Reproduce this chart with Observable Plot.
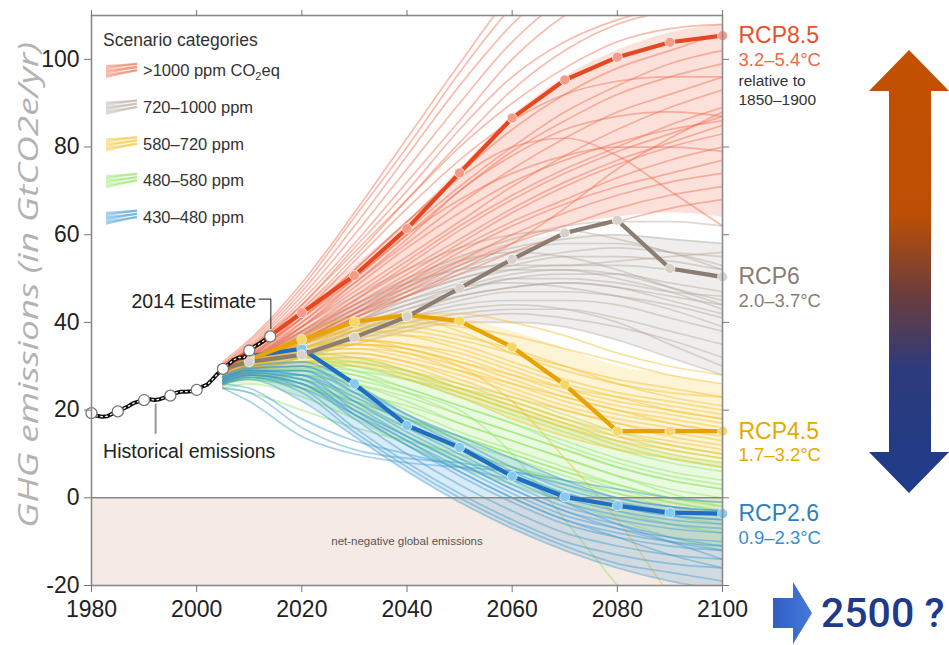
<!DOCTYPE html>
<html>
<head>
<meta charset="utf-8">
<script src="https://cdn.jsdelivr.net/npm/d3@7"></script>
<script src="https://cdn.jsdelivr.net/npm/@observablehq/plot@0.6"></script>
<style>
  html, body { margin: 0; padding: 0; background: #fff; overflow: hidden; }
  #chart svg { display: block; }
</style>
</head>
<body>
<div id="chart"></div>
<script>
// ---------- DATA ----------
const histYears = [1980,1981,1982,1983,1984,1985,1986,1987,1988,1989,1990,1991,1992,1993,1994,1995,1996,1997,1998,1999,2000,2001,2002,2003,2004,2005,2006,2007,2008,2009,2010,2011,2012,2013,2014];
const histValues = [19.3,18.7,18.5,18.6,19.2,19.7,20.3,20.9,21.6,22.0,22.3,22.5,22.3,22.5,22.9,23.3,23.9,24.2,24.2,24.3,24.6,25.3,25.8,27.0,28.3,29.4,30.4,31.4,32.0,32.0,33.6,34.5,35.2,36.0,36.8];
const histMarkerYears = [1980,1985,1990,1995,2000,2005,2010,2014];

const scenYears = [2005,2010,2020,2030,2040,2050,2060,2070,2080,2090,2100];

const scenRed = [
  [31,36,49,65,82,99,115,125,130,132,134],
  [30.5,35,47,62,78,94,108,118,124,128,130],
  [30,34,45,58,72,86,100,110,116,120,122],
  [29.5,33.5,43,55,68,81,93,102,108,111,112],
  [29,33,42,52,63,74,84,92,98,102,106],
  [29,32.5,41,50,60,70,79,86,92,96,99],
  [28.5,32,40,49,58,67,75,82,88,92,96],
  [28,31.5,39,47,55,63,71,78,84,89,93],
  [28,31,38,46,54,62,69,75,80,85,89],
  [27.5,31,38,45,52,59,66,72,77,81,85],
  [27,30.5,37,44,51,58,65,71,76,80,83],
  [27,30,36.5,43,50,57,63,68,73,77,80],
  [26.5,30,36,42,49,56,62,67,71,74,77],
  [26.5,29.5,36,42,48,54,60,65,69,72,74],
  [26,29,35,41,47,53,58,62,66,69,71],
  [26,29,35,41,46,51,56,60,63,66,68],
  [25.5,29,35,40,46,52,58,66,75,82,88],
  [28,32,41,52,63,73,80,82,78,70,62],
  [27,31,40,50,60,68,74,78,80,80,79],
  [29,33,44,56,68,80,90,98,104,107,108],
  [30,34.5,46,60,75,90,104,114,120,124,126],
  [28.5,32,42,54,66,77,86,92,95,96,96],
  [27.5,31,39,48,57,65,72,77,81,84,86],
  [30.5,35.5,48,64,80,97,112,122,128,130,131],
  [29.5,34,44,57,70,84,96,104,109,112,113],
  [28,31,39,49,59,70,78,84,87,88,87],
  [27,30,37,45,53,61,68,74,79,83,87],
  [28.5,32.5,41,51,61,71,80,88,94,99,102]
];
const scenGrey = [
  [29,32,38,44,50,55,59,62,63,63,62],
  [28.5,31.5,37,43,48,53,57,59,60,59,58],
  [28.5,31,36,42,47,51,54,56,57,56,55],
  [28,31,36,41,46,50,53,55,55,54,52],
  [28,30.5,35,40,45,49,52,53,53,52,50],
  [28,30.5,35,40,44,47,50,51,51,49,47],
  [27.5,30,34,39,43,46,48,49,48,46,44],
  [27.5,30,34,38,42,45,47,47,46,44,41],
  [27,29.5,33,37,41,44,45,45,44,41,38],
  [27,29.5,33,37,40,42,43,43,41,38,35],
  [27,29,32,36,39,41,42,41,39,36,32],
  [26.5,29,32,35,38,40,40,39,36,32,28],
  [28,31,37,43,49,54,56,55,52,48,44],
  [28,31,36,42,47,52,56,58,58,56,53],
  [27.5,30,35,40,44,48,51,52,51,48,45],
  [27,30,34,38,41,43,44,43,40,35,30],
  [28.5,32,39,46,52,57,60,61,59,56,52],
  [27,29.5,33,38,42,46,48,49,48,45,42],
  [28,31,37,42,46,50,52,52,50,47,43],
  [27.5,30.5,35,39,43,47,50,50,49,47,46],
  [28,30.5,35.5,41,45,48,49,48,46,43,39],
  [28.5,31.5,37.5,44,49,52,53,53,54,55,56]
];
const scenYellow = [
  [28,31,36,39,40,39,37,34,31,28,26],
  [28,30.5,35,38,38,36,33,30,27,25,23],
  [27.5,30,34,37,37,35,31,27,24,22,20],
  [27.5,30,34,36,35,33,29,25,22,20,18],
  [27,29.5,33,35,34,31,27,23,20,18,16],
  [27,29.5,33,34,33,30,26,22,19,17,15],
  [27,29,32,33,31,28,24,20,17,15,13],
  [26.5,29,31,32,30,26,22,18,15,13,11],
  [26.5,28.5,31,31,28,24,20,16,13,11,9],
  [26,28.5,30,30,27,23,18,14,11,9,7],
  [28,31,36,40,42,42,40,37,33,30,28],
  [28,30.5,35,38,39,37,34,30,26,23,21],
  [27.5,30,34,36,35,32,28,24,21,19,17],
  [27,29.5,33,35,33,29,25,21,18,16,14],
  [27,29.5,32,32,29,25,21,17,14,12,10],
  [27.5,30,34,36,34,30,22,9,-5,-22,-35],
  [28,31,37,41,41,38,33,29,26,24,23],
  [27.5,30,33.5,35,34,31,28,25,23,21,19],
  [27,29.5,32.5,33,31,27,23,20,17,14,12],
  [27.5,30,33,34,32,29,26,23,20,17,15],
  [28,30.5,35.5,38,37,34,30,26,23,20,18]
];
const scenGreen = [
  [28,30,33,32,29,25,21,17,13,10,8],
  [27.5,29.5,32,30,27,23,19,15,11,8,6],
  [27.5,29,31,29,25,21,17,13,9,6,4],
  [27,29,30,28,24,19,15,11,7,4,2],
  [27,28.5,29,26,22,17,13,9,5,2,0],
  [26.5,28,28,25,20,15,11,7,3,0,-2],
  [26.5,28,27,23,18,13,9,5,1,-2,-4],
  [26,27.5,26,21,16,11,7,3,-1,-4,-6],
  [26,27,25,20,14,9,5,1,-3,-6,-8],
  [27,28.5,30,29,27,24,20,16,12,9,7],
  [26.5,28,28,26,23,19,15,11,7,4,2],
  [26,27.5,26,22,18,14,10,6,2,-1,-3],
  [25,26,23,18,12,7,3,-1,-5,-9,-12],
  [27,28.5,29,27,24,20,10,-5,-20,-35,-40],
  [25,24,20,16,13,10,7,4,1,-1,-3],
  [27.5,29.5,32,31,29,26,23,19,15,12,10],
  [27,29,31,30,28,25,22,18,14,11,9],
  [26.5,28,27,24,21,17,13,9,5,1,-2],
  [27,28.5,29.5,28,25,21,17,12,8,5,3],
  [26,27,25,22,18,14,10,6,3,0,-1]
];
const scenBlue = [
  [28,30,31,26,19,13,7,2,-1,-3,-4],
  [27.5,29.5,30,24,17,11,5,0,-3,-5,-6],
  [27.5,29,29,22,15,9,3,-2,-5,-7,-8],
  [27,29,28,20,13,7,1,-4,-7,-9,-10],
  [27,28.5,27,19,12,5,-1,-6,-9,-11,-12],
  [26.5,28,26,18,10,3,-3,-8,-11,-13,-14],
  [26.5,28,25,16,8,1,-5,-10,-13,-15,-16],
  [26,27.5,24,15,7,0,-6,-11,-15,-17,-19],
  [27.5,29.5,30,25,19,14,9,4,0,-2,-3],
  [27,29,28,22,16,10,4,-1,-4,-6,-7],
  [26.5,28,26,20,14,8,2,-3,-7,-10,-12],
  [26,27.5,25,19,13,6,0,-5,-9,-13,-16],
  [26,27,22,14,6,-1,-7,-12,-16,-19,-21],
  [25,24,16,11,9,8,6,3,0,-2,-3],
  [25,22,14,10,8,7,6,4,2,0,-1],
  [26,25,18,13,10,7,4,1,-2,-4,-5],
  [27.5,29,29,24,18,12,6,1,-2,-4,-5],
  [27,28.5,27,21,14,8,2,-3,-6,-9,-11],
  [26.5,28,26,19,12,6,0,-5,-8,-10,-11],
  [27,28.5,28,23,17,11,5,-1,-6,-10,-14]
];
// approximate envelopes of the dense core of each scenario category (lower / upper)
const envRed = {lo: [26,29,35,41,47,53,58,62,64,65,64], hi: [30.5,34.5,44,53,63,75,87,96,102,106,108]};
const envGrey = {lo: [26.5,29,32,35,38,40,40,39,36,32,28], hi: [29,32,38,44,50,55,58,60,60,59,58]};
const envYellow = {lo: [26,28.5,30,30,27,23,18,14,11,9,7], hi: [28,31,36,40,42,41,38,34,30,28,26]};
const envGreen = {lo: [25,26,23,18,12,7,3,-1,-5,-9,-12], hi: [28,30,33,32,29,25,21,17,13,10,8]};
const envBlue = {lo: [26,27,22,14,6,-1,-7,-12,-16,-19,-21], hi: [28,30,31,26,19,14,9,4,0,-2,-3]};

const rcpYears = [2005,2010,2020,2030,2040,2050,2060,2070,2080,2090,2100];
const rcpNames = ["RCP8.5","RCP6","RCP4.5","RCP2.6"];
const rcpRanges = ["3.2–5.4°C","2.0–3.7°C","1.7–3.2°C","0.9–2.3°C"];
const rcp85 = [29.5,33.5,42.2,50.7,61.4,74.1,86.6,95.3,100.5,103.9,105.4];
const rcp60 = [29.5,31.0,32.6,36.6,41.3,47.8,54.4,60.4,63.3,52.3,50.4];
const rcp45 = [29.5,31.5,36.1,40.1,41.7,40.3,34.4,25.8,15.2,15.2,15.2];
const rcp26 = [29.5,32.3,34.0,26.0,16.5,11.5,4.9,0.2,-1.8,-3.4,-3.6];
const rcpMarkerYears = [2010,2020,2030,2040,2050,2060,2070,2080,2090,2100];

const legendTitle = "Scenario categories";
const legendLabels = [">1000 ppm CO", "720–1000 ppm", "580–720 ppm", "480–580 ppm", "430–480 ppm"];

const xTicks = [1980,2000,2020,2040,2060,2080,2100];
const yTicks = [-20,0,20,40,60,80,100];

// ---------- STYLE ----------
const catColors = ["#ef6a4c", "#b3a89f", "#f3c22c", "#8fe462", "#3d9bd3"];
const rcpColors = ["#e8461e", "#8c7d72", "#e8a300", "#1f6ec3"];
const rcpMarkFill = ["#f49c88", "#d8d1cb", "#f5d766", "#86c8ef"];
const rcpLabelColors = ["#e8502a", "#8a7d74", "#e8a800", "#2f7fc0"];
const rcpSubColors = ["#ec6a48", "#8a7d74", "#e8a800", "#3b8ccc"];

// ---------- TABLES ----------
function scenTable(lines, cat) {
  const out = [];
  lines.forEach((vals, i) => vals.forEach((v, j) => out.push({cat, id: cat + "_" + i, year: scenYears[j], v})));
  return out;
}
function envTable(env) {
  return scenYears.map((y, j) => ({year: y, lo: env.lo[j], hi: env.hi[j]}));
}
const scenSets = [scenGrey, scenRed, scenGreen, scenYellow, scenBlue];
const envSets = [envGrey, envRed, envGreen, envYellow, envBlue];
const scenCats = [1, 0, 3, 2, 4];
const hist = histYears.map((y, i) => ({year: y, v: histValues[i]}));
const histMarks = hist.filter(d => histMarkerYears.includes(d.year));
const rcpVals = [rcp85, rcp60, rcp45, rcp26];
const rcpRows = rcpVals.map((vals, k) => vals.map((v, j) => ({k, year: rcpYears[j], v})));
const rcpEnds = rcpVals.map((vals, k) => ({k, name: rcpNames[k], range: rcpRanges[k], year: rcpYears[rcpYears.length-1], v: vals[vals.length-1]}));

const marks = [];
// net-negative band
marks.push(Plot.rect([{x1: 1980, x2: 2100, y1: -20, y2: 0}], {x1: "x1", x2: "x2", y1: "y1", y2: "y2", fill: "#f6eae4"}));
marks.push(Plot.text(["net-negative global emissions"], {x: [2040], y: [-10], fontSize: 11.5, fill: "#555", fontFamily: "Liberation Sans"}));
// scenario envelopes + spaghetti
scenSets.forEach((lines, s) => {
  const c = scenCats[s];
  marks.push(Plot.areaY(envTable(envSets[s]), {x: "year", y1: "lo", y2: "hi", fill: catColors[c], fillOpacity: 0.2, curve: "monotone-x", clip: true}));
  marks.push(Plot.line(scenTable(lines, c), {x: "year", y: "v", z: "id", stroke: catColors[c], strokeWidth: 1.7, strokeOpacity: 0.45, curve: "monotone-x", clip: true}));
});
// zero line
marks.push(Plot.ruleY([0], {stroke: "#888", strokeWidth: 1.6}));
// RCP lines
rcpRows.slice().reverse().forEach(rows => {
  const k = rows[0].k;
  marks.push(Plot.line(rows, {x: "year", y: "v", stroke: rcpColors[k], strokeWidth: 4.2}));
});
rcpRows.slice().reverse().forEach(rows => {
  const k = rows[0].k;
  marks.push(Plot.dot(rows.filter(d => rcpMarkerYears.includes(d.year)), {x: "year", y: "v", r: 5, fill: rcpMarkFill[k], stroke: "#fff", strokeOpacity: 0.6, strokeWidth: 1}));
});
// historical
marks.push(Plot.line(hist, {x: "year", y: "v", stroke: "#111", strokeWidth: 4}));
marks.push(Plot.line(hist, {x: "year", y: "v", stroke: "#fff", strokeWidth: 1.3, strokeDasharray: "1.5,3.5"}));
marks.push(Plot.dot(histMarks, {x: "year", y: "v", r: 5.5, fill: "#fff", stroke: "#777", strokeWidth: 1.3}));
// annotations
const annoEstLine = [{year: 2011.9, v: 45.3}, {year: 2014.1, v: 45.3}, {year: 2014.1, v: 38.6}];
const annoHistLine = [{year: 1992.2, v: 21.3}, {year: 1992.2, v: 14.8}];
marks.push(Plot.line(annoEstLine, {x: "year", y: "v", stroke: "#444", strokeWidth: 1.2}));
marks.push(Plot.line(annoHistLine, {x: "year", y: "v", stroke: "#999", strokeWidth: 2}));
marks.push(Plot.text(["2014 Estimate"], {x: [2011.3], y: [44.8], textAnchor: "end", fontSize: 19.5, fill: "#222", fontFamily: "Liberation Sans"}));
marks.push(Plot.text(["Historical emissions"], {x: [1982.2], y: [10.5], textAnchor: "start", fontSize: 19.5, fill: "#222", fontFamily: "Liberation Sans"}));
// RCP end labels
marks.push(Plot.text(rcpEnds, {x: "year", y: "v", text: "name", dx: 16, textAnchor: "start", fontSize: 23, fill: d => rcpLabelColors[d.k], fontFamily: "Liberation Sans"}));
marks.push(Plot.text(rcpEnds, {x: "year", y: "v", text: "range", dx: 16, dy: 24, textAnchor: "start", fontSize: 18.5, fill: d => rcpSubColors[d.k], fontFamily: "Liberation Sans"}));
marks.push(Plot.text(rcpEnds.filter(d => d.k === 0), {x: "year", y: "v", text: () => "relative to", dx: 16, dy: 45, textAnchor: "start", fontSize: 15.5, fill: "#333", fontFamily: "Liberation Sans"}));
marks.push(Plot.text(rcpEnds.filter(d => d.k === 0), {x: "year", y: "v", text: () => "1850–1900", dx: 16, dy: 64, textAnchor: "start", fontSize: 15.5, fill: "#333", fontFamily: "Liberation Sans"}));
// axes & frame
marks.push(Plot.frame({stroke: "#8a8a8a", strokeWidth: 1.6}));
marks.push(Plot.axisY({ticks: yTicks, tickSize: 7, tickPadding: 5, fontSize: 23, label: null, stroke: "#777", tickFormat: d => String(d)}));
marks.push(Plot.axisY({anchor: "right", ticks: yTicks, tickSize: 6, tickFormat: () => "", label: null, stroke: "#777"}));
marks.push(Plot.axisX({ticks: xTicks, tickSize: 7, tickPadding: 8, fontSize: 23, label: null, tickFormat: d => String(d), stroke: "#777"}));
marks.push(Plot.axisX({anchor: "top", ticks: xTicks, tickSize: 6, tickFormat: () => "", label: null, stroke: "#777"}));

const chart = Plot.plot({
  width: 949,
  height: 645,
  marginLeft: 91,
  marginRight: 227,
  marginTop: 15,
  marginBottom: 60,
  x: {domain: [1980, 2100]},
  y: {domain: [-20, 110]},
  style: {fontFamily: "Liberation Sans", color: "#222", background: "#fff", overflow: "visible"},
  marks
});
document.getElementById("chart").appendChild(chart);

// ---------- DECORATIONS ----------
const svg = d3.select(chart);
// y-axis title
svg.append("text")
  .attr("transform", "translate(31,285) rotate(-90)")
  .attr("text-anchor", "middle").attr("dominant-baseline", "middle")
  .attr("font-family", "Open Sans").attr("font-style", "italic").attr("font-size", 28)
  .attr("fill", "#b3b3b3").attr("textLength", 486).attr("lengthAdjust", "spacingAndGlyphs")
  .text("GHG emissions (in GtCO2e/yr)");

// legend
const lg = svg.append("g").attr("text-anchor", "start");
lg.append("text").attr("x", 103).attr("y", 46).attr("font-size", 17.5).attr("fill", "#333").attr("font-family", "Liberation Sans").text(legendTitle);
legendLabels.forEach((lab, i) => {
  const cy = 72 + i * 36.7;
  for (let j = 0; j < 6; j++) {
    const y0 = cy + 5 - j * 2.2, y1 = cy - 2 - j * 1.6 + (j % 2) * 2;
    lg.append("line").attr("x1", 106).attr("x2", 137).attr("y1", y0).attr("y2", y1)
      .attr("stroke", catColors[i]).attr("stroke-opacity", 0.45).attr("stroke-width", 2.2);
  }
  const t = lg.append("text").attr("x", 143).attr("y", cy).attr("dominant-baseline", "middle")
    .attr("font-size", 16.5).attr("fill", "#333").attr("font-family", "Liberation Sans").text(lab);
  if (i === 0) {
    t.append("tspan").attr("font-size", 11).attr("dy", 5).text("2");
    t.append("tspan").attr("dy", -5).text("eq");
  }
});

// big gradient arrow
const defs = svg.append("defs");
const g1 = defs.append("linearGradient").attr("id", "bigArrow").attr("x1", 0).attr("x2", 0).attr("y1", 0).attr("y2", 1);
[[0, "#c25000"], [0.37, "#bd4f04"], [0.55, "#6c3d3c"], [0.72, "#2c3b7c"], [1, "#1f3c8a"]].forEach(([o, c]) => g1.append("stop").attr("offset", o).attr("stop-color", c));
svg.append("path")
  .attr("d", "M909,50 L949,91 L931,91 L931,452 L949,452 L909,493 L869,452 L889,452 L889,91 L869,91 Z")
  .attr("fill", "url(#bigArrow)");

// small blue arrow + "2500 ?"
const g2 = defs.append("linearGradient").attr("id", "smallArrow").attr("x1", 0).attr("x2", 1).attr("y1", 0).attr("y2", 0);
[[0, "#2f60c4"], [1, "#4678dc"]].forEach(([o, c]) => g2.append("stop").attr("offset", o).attr("stop-color", c));
svg.append("path")
  .attr("d", "M773,598 L793,598 L793,582 L812,613 L793,644 L793,628 L773,628 Z")
  .attr("fill", "url(#smallArrow)");
svg.append("text").attr("x", 821).attr("y", 627).attr("text-anchor", "start")
  .attr("font-family", "Roboto").attr("font-size", 41).attr("font-weight", 500)
  .attr("fill", "#1f3a8a")
  .text("2500 ?");
</script>
</body>
</html>
